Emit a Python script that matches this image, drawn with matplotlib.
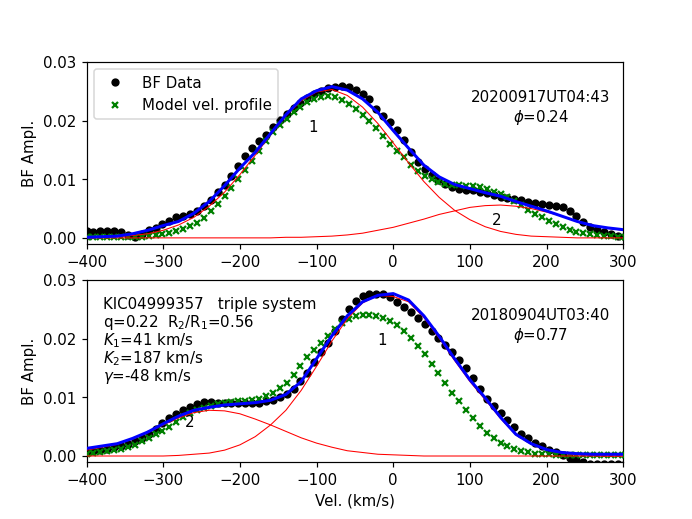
import numpy as np
import matplotlib
matplotlib.use("Agg")
import matplotlib.pyplot as plt

# velocity grids (km/s)
vel = np.arange(-400, 303, 9)        # BF / model points
vel_fit = np.arange(-400, 301, 20)   # fitted curves

# ---- top panel: 20200917UT04:43, phase 0.24 ----
bf_top = [0.0011, 0.0010, 0.0011, 0.0012, 0.0011, 0.0010, 0.0005, 0.0002, 0.0006, 0.0013,
          0.0016, 0.0023, 0.0029, 0.0035, 0.0038, 0.0041, 0.0046, 0.0055, 0.0065, 0.0078,
          0.0091, 0.0105, 0.0122, 0.0139, 0.0153, 0.0165, 0.0176, 0.0189, 0.0201, 0.0212,
          0.0222, 0.0230, 0.0238, 0.0245, 0.0251, 0.0255, 0.0258, 0.0259, 0.0257, 0.0253,
          0.0245, 0.0236, 0.0220, 0.0208, 0.0198, 0.0184, 0.0167, 0.0146, 0.0129, 0.0117,
          0.0107, 0.0098, 0.0092, 0.0086, 0.0083, 0.0082, 0.0082, 0.0079, 0.0076, 0.0073,
          0.0070, 0.0068, 0.0066, 0.0064, 0.0062, 0.0060, 0.0058, 0.0056, 0.0055, 0.0052,
          0.0046, 0.0037, 0.0027, 0.0019, 0.0014, 0.0010, 0.0007, 0.0004, 0.0002]
model_top = [0.0001, 0.0001, 0.0001, 0.0001, 0.0001, 0.0001, 0.0001, 0.0002, 0.0002, 0.0003,
             0.0005, 0.0007, 0.0009, 0.0012, 0.0015, 0.0020, 0.0026, 0.0034, 0.0045, 0.0058,
             0.0071, 0.0085, 0.0101, 0.0115, 0.0131, 0.0149, 0.0165, 0.0180, 0.0192, 0.0203,
             0.0214, 0.0224, 0.0231, 0.0237, 0.0240, 0.0242, 0.0240, 0.0235, 0.0228, 0.0220,
             0.0210, 0.0200, 0.0188, 0.0173, 0.0160, 0.0149, 0.0138, 0.0124, 0.0114, 0.0106,
             0.0100, 0.0095, 0.0092, 0.0090, 0.0090, 0.0089, 0.0088, 0.0086, 0.0083, 0.0079,
             0.0075, 0.0070, 0.0063, 0.0056, 0.0048, 0.0041, 0.0035, 0.0029, 0.0024, 0.0019,
             0.0013, 0.0010, 0.0008, 0.0006, 0.0005, 0.0004, 0.0003, 0.0002, 0.0002]
comp1_top = [0.0000, 0.0001, 0.0002, 0.0004, 0.0007, 0.0013, 0.0022, 0.0035, 0.0054, 0.0078,
             0.0108, 0.0141, 0.0176, 0.0208, 0.0234, 0.0249, 0.0253, 0.0243, 0.0223, 0.0195,
             0.0162, 0.0128, 0.0096, 0.0069, 0.0047, 0.0031, 0.0019, 0.0011, 0.0006, 0.0003,
             0.0002, 0.0001, 0.0000, 0.0000, 0.0000, 0.0000]
comp2_top = [0.0000, 0.0000, 0.0000, 0.0000, 0.0000, 0.0000, 0.0000, 0.0000, 0.0000, 0.0000,
             0.0000, 0.0000, 0.0000, 0.0001, 0.0001, 0.0002, 0.0003, 0.0005, 0.0008, 0.0013,
             0.0018, 0.0025, 0.0032, 0.0040, 0.0046, 0.0052, 0.0055, 0.0056, 0.0054, 0.0050,
             0.0044, 0.0037, 0.0028, 0.0021, 0.0016, 0.0013]
fit_top = [0.0001, 0.0002, 0.0003, 0.0007, 0.0013, 0.0021, 0.0028, 0.0042, 0.0062, 0.0089,
           0.0119, 0.0146, 0.0178, 0.0210, 0.0237, 0.0251, 0.0258, 0.0252, 0.0237, 0.0214,
           0.0183, 0.0153, 0.0124, 0.0104, 0.0091, 0.0084, 0.0077, 0.0071, 0.0062, 0.0054,
           0.0046, 0.0037, 0.0028, 0.0021, 0.0017, 0.0014]

# ---- bottom panel: 20180904UT03:40, phase 0.77 ----
bf_bot = [0.0007, 0.0008, 0.0010, 0.0012, 0.0015, 0.0017, 0.0020, 0.0026, 0.0031, 0.0038,
          0.0046, 0.0056, 0.0064, 0.0072, 0.0078, 0.0084, 0.0089, 0.0092, 0.0092, 0.0091,
          0.0090, 0.0090, 0.0090, 0.0090, 0.0091, 0.0091, 0.0093, 0.0095, 0.0100, 0.0106,
          0.0115, 0.0128, 0.0142, 0.0160, 0.0178, 0.0193, 0.0214, 0.0233, 0.0251, 0.0265,
          0.0273, 0.0276, 0.0277, 0.0277, 0.0272, 0.0263, 0.0254, 0.0246, 0.0236, 0.0225,
          0.0213, 0.0201, 0.0189, 0.0177, 0.0164, 0.0150, 0.0133, 0.0115, 0.0098, 0.0086,
          0.0073, 0.0061, 0.0049, 0.0038, 0.0030, 0.0023, 0.0017, 0.0011, 0.0006, 0.0001,
          -0.0003, -0.0007, -0.0011, -0.0013, -0.0013, -0.0013, -0.0013, -0.0013, -0.0013]
model_bot = [0.0004, 0.0005, 0.0006, 0.0008, 0.0010, 0.0012, 0.0015, 0.0019, 0.0025, 0.0031,
             0.0037, 0.0043, 0.0050, 0.0058, 0.0066, 0.0073, 0.0078, 0.0082, 0.0085, 0.0088,
             0.0090, 0.0092, 0.0093, 0.0094, 0.0095, 0.0098, 0.0102, 0.0108, 0.0116, 0.0125,
             0.0138, 0.0154, 0.0168, 0.0181, 0.0193, 0.0205, 0.0216, 0.0226, 0.0233, 0.0238,
             0.0240, 0.0240, 0.0239, 0.0236, 0.0231, 0.0224, 0.0214, 0.0202, 0.0188, 0.0174,
             0.0157, 0.0141, 0.0124, 0.0108, 0.0093, 0.0078, 0.0064, 0.0051, 0.0040, 0.0030,
             0.0023, 0.0017, 0.0012, 0.0009, 0.0006, 0.0004, 0.0003, 0.0003, 0.0002, 0.0002,
             0.0002, 0.0002, 0.0002, 0.0002, 0.0002, 0.0002, 0.0002, 0.0002, 0.0002]
comp1_bot = [0.0000, 0.0000, 0.0000, 0.0000, 0.0000, 0.0000, 0.0001, 0.0003, 0.0005, 0.0010,
             0.0019, 0.0033, 0.0053, 0.0078, 0.0112, 0.0153, 0.0196, 0.0234, 0.0261, 0.0274,
             0.0272, 0.0263, 0.0236, 0.0201, 0.0163, 0.0127, 0.0096, 0.0064, 0.0036, 0.0020,
             0.0010, 0.0005, 0.0002, 0.0001, 0.0000, 0.0000]
comp2_bot = [0.0010, 0.0015, 0.0020, 0.0029, 0.0040, 0.0053, 0.0065, 0.0074, 0.0078, 0.0077,
             0.0072, 0.0063, 0.0053, 0.0042, 0.0031, 0.0022, 0.0015, 0.0009, 0.0006, 0.0003,
             0.0002, 0.0001, 0.0000, 0.0000, 0.0000, 0.0000, 0.0000, 0.0000, 0.0000, 0.0000,
             0.0000, 0.0000, 0.0000, 0.0000, 0.0000, 0.0000]
fit_bot = [0.0013, 0.0017, 0.0021, 0.0030, 0.0041, 0.0055, 0.0068, 0.0078, 0.0083, 0.0087,
           0.0089, 0.0091, 0.0095, 0.0105, 0.0127, 0.0166, 0.0205, 0.0239, 0.0263, 0.0274,
           0.0277, 0.0266, 0.0239, 0.0204, 0.0166, 0.0130, 0.0099, 0.0066, 0.0037, 0.0021,
           0.0011, 0.0006, 0.0004, 0.0003, 0.0003, 0.0003]

stamp_top = "20200917UT04:43\n$\\phi$=0.24"
stamp_bot = "20180904UT03:40\n$\\phi$=0.77"
info_lines = ["KIC04999357   triple system",
              "q=0.22  R$_2$/R$_1$=0.56",
              "$K_1$=41 km/s",
              "$K_2$=187 km/s",
              "$\\gamma$=-48 km/s"]

fig, (ax1, ax2) = plt.subplots(2, 1, figsize=(6.4, 4.8), dpi=108.2)

def panel(ax, bf, model, c1, c2, fit):
    ax.plot(vel, bf, 'o', color='k', ms=4.5, label='BF Data', zorder=2)
    ax.plot(vel, model, 'x', color='g', ms=3.5, mew=1.5, label='Model vel. profile', zorder=3)
    ax.plot(vel_fit, c1, '-', color='red', lw=0.7, zorder=4)
    ax.plot(vel_fit, c2, '-', color='red', lw=0.7, zorder=4)
    ax.plot(vel_fit, fit, '-', color='blue', lw=2.0, zorder=5)
    ax.set_xlim(-400, 300)
    ax.set_ylim(-0.001, 0.03)
    ax.set_yticks([0.0, 0.01, 0.02, 0.03])
    ax.set_ylabel('BF Ampl.')

panel(ax1, bf_top, model_top, comp1_top, comp2_top, fit_top)
panel(ax2, bf_bot, model_bot, comp1_bot, comp2_bot, fit_bot)

ax1.legend(loc='upper left')
ax1.text(0.846, 0.745, stamp_top, transform=ax1.transAxes, ha='center', va='center')
ax1.text(-104, 0.0188, '1', ha='center', va='center')
ax1.text(135, 0.0031, '2', ha='center', va='center')

ax2.text(0.846, 0.745, stamp_bot, transform=ax2.transAxes, ha='center', va='center')
for k, line in enumerate(info_lines):
    ax2.text(0.03, 0.845 - 0.1 * k, line, transform=ax2.transAxes,
             ha='left', va='baseline')
ax2.text(-15, 0.0198, '1', ha='center', va='center')
ax2.text(-265, 0.0058, '2', ha='center', va='center')
ax2.set_xlabel('Vel. (km/s)')

fig.savefig('out.png', dpi=108.2)
